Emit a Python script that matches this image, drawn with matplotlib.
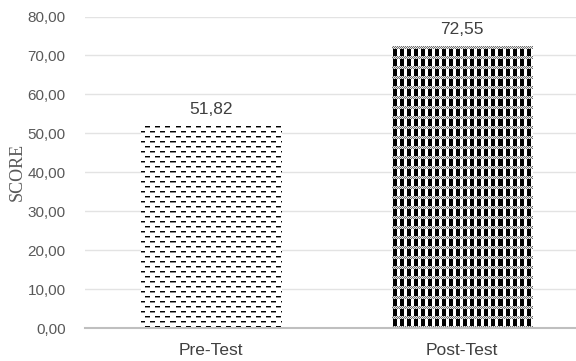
import numpy as np
import matplotlib
matplotlib.use('Agg')
import matplotlib.pyplot as plt

categories = ['Pre-Test', 'Post-Test']
scores = [51.82, 72.55]
yticks = [0, 10, 20, 30, 40, 50, 60, 70, 80]

W, H, DPI = 576, 361, 100
fig = plt.figure(figsize=(W / DPI, H / DPI), dpi=DPI)
# axes runs past the right edge of the figure, like the cropped original
ax = fig.add_axes([85 / W, (H - 328) / H, 503 / W, (328 - 16.5) / H])

x = np.arange(len(categories))
bars = ax.bar(x, scores, width=0.557, color='white', edgecolor='none', zorder=2)
ax.set_xlim(-0.5, 1.5)
ax.set_ylim(0, 80)

# pixel patterns (approximating the excel pattern fills)
aw = 503
ah = 312
yy, xx = np.mgrid[0:ah, 0:aw]

# dashed horizontal
pat1 = np.ones((ah, aw))
row = yy % 10
shift = np.where(row < 5, 0, 5)
dash = ((xx + shift) % 10) < 5
pat1[((row == 0) | (row == 5)) & dash] = 0.0
pat1[((row == 1) | (row == 6)) & dash] = 0.55

# checker / plaid
pat2 = np.ones((ah, aw))
blk = ((xx % 7) < 4) & ((yy % 10) >= 3)
pat2[blk] = 0.0
band = (yy % 10) < 3
pat2[band & (((xx + yy) % 2) == 0)] = 0.45
pat2[band & (((xx + yy) % 2) == 1)] = 0.9

for bar, pat in zip(bars, [pat1, pat2]):
    im = ax.imshow(pat, cmap='gray', vmin=0, vmax=1, interpolation='nearest',
                   extent=[-0.5, 1.5, 0, 80], aspect='auto', zorder=3)
    im.set_clip_path(bar)

for xi, s in zip(x, scores):
    ax.text(xi, s + 2.3, f'{s:.2f}'.replace('.', ','), ha='center', va='bottom',
            fontsize=12.5, color='#404040', family='Liberation Sans', zorder=4)

ax.set_yticks(yticks)
ax.set_yticklabels([f'{v:.2f}'.replace('.', ',') for v in yticks],
                   fontsize=11, color='#595959', family='Liberation Sans')
ax.set_xticks(x)
ax.set_xticklabels(categories, fontsize=12.5, color='#404040', family='Liberation Sans')
ax.tick_params(axis='y', length=0, pad=14)
ax.tick_params(axis='x', length=0, pad=11)
ax.grid(axis='y', color='#e3e3e3', linewidth=1, zorder=0)
ax.set_axisbelow(True)
for sp in ['top', 'right', 'left']:
    ax.spines[sp].set_visible(False)
ax.spines['bottom'].set_color('#bfbfbf')
ax.spines['bottom'].set_linewidth(1.5)
ax.spines['bottom'].set_zorder(5)

ax.set_ylabel('SCORE', fontsize=13, color='#595959', family='Liberation Serif')
ax.yaxis.set_label_coords(-0.117, 0.5)

fig.savefig('out.png', dpi=DPI)
